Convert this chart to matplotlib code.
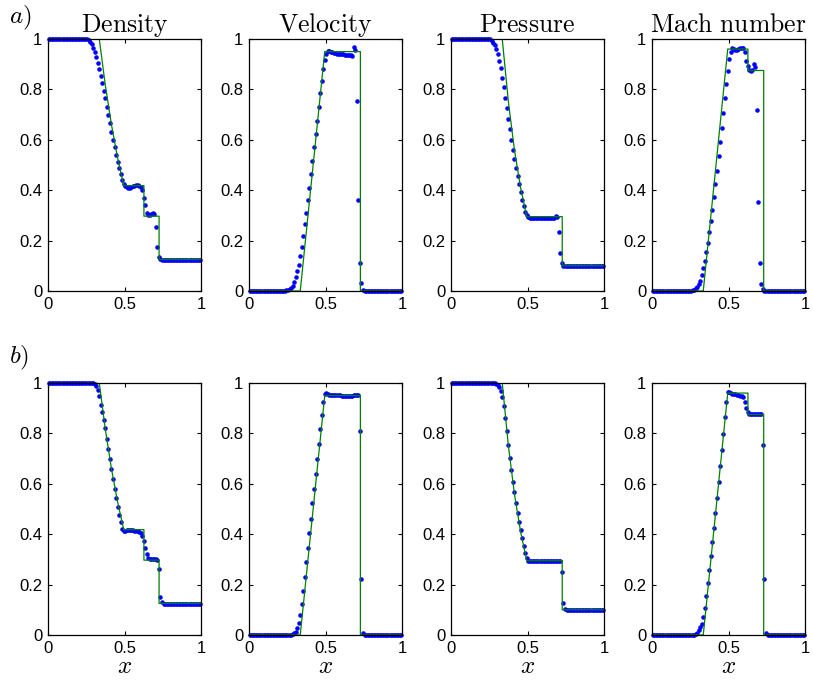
import numpy as np
import matplotlib
matplotlib.use("Agg")
import matplotlib.pyplot as plt

plt.rcParams['font.family'] = ['Liberation Sans', 'DejaVu Sans']
plt.rcParams['mathtext.fontset'] = 'cm'

# cell centres (100 cells on [0, 1])
x_cells = np.linspace(0.005, 0.995, 100)

# numerical solution, row a)
rho_a = ([1.0] * 26 +
         [0.997, 0.99, 0.98, 0.965, 0.95, 0.93, 0.905, 0.88, 0.855, 0.825, 0.795, 0.765,
          0.73, 0.70, 0.665, 0.63, 0.60, 0.57, 0.54, 0.51, 0.49, 0.465, 0.44, 0.425] +
         [0.415, 0.412, 0.41, 0.41, 0.412, 0.415, 0.418, 0.42, 0.42, 0.418, 0.412] +
         [0.40, 0.37, 0.34] +
         [0.31, 0.302, 0.30, 0.305, 0.308, 0.305] +
         [0.255, 0.175, 0.135, 0.126] +
         [0.125] * 26)
u_a = ([0.0] * 23 + [0.001, 0.003, 0.005] +
       [0.007, 0.013, 0.02, 0.035, 0.055, 0.08, 0.105, 0.14, 0.175, 0.22, 0.265, 0.31, 0.36,
        0.41, 0.465, 0.515, 0.57, 0.625, 0.675, 0.73, 0.785, 0.833, 0.88, 0.915, 0.94, 0.952] +
       [0.952, 0.95, 0.947, 0.945, 0.943, 0.942, 0.941, 0.94, 0.94, 0.939, 0.938, 0.938,
        0.937, 0.936, 0.935] +
       [0.932, 0.968, 0.955] +
       [0.755, 0.36, 0.11, 0.03, 0.005] +
       [0.0] * 25)
p_a = ([1.0] * 26 +
       [0.993, 0.985, 0.976, 0.96, 0.94, 0.914, 0.883, 0.847, 0.809, 0.766, 0.725, 0.684,
        0.643, 0.60, 0.56, 0.525, 0.489, 0.457, 0.424, 0.392, 0.363, 0.336, 0.315, 0.303, 0.292] +
       [0.289] * 17 +
       [0.298, 0.292] +
       [0.235, 0.15, 0.112, 0.101] +
       [0.1] * 26)
M_a = ([0.0] * 25 + [0.001] +
       [0.003, 0.005, 0.01, 0.017, 0.027, 0.038, 0.064, 0.09, 0.12, 0.153,
        0.191, 0.234, 0.278, 0.323, 0.372, 0.425, 0.478, 0.534, 0.59, 0.648,
        0.707, 0.765, 0.823, 0.874, 0.919, 0.95, 0.963, 0.96, 0.956,
        0.956, 0.96, 0.964, 0.965, 0.963, 0.947, 0.914, 0.893, 0.877, 0.873,
        0.877, 0.9, 0.89, 0.717, 0.354, 0.113, 0.029, 0.007] +
       [0.0] * 27)

# numerical solution, row b)
rho_b = ([1.0] * 29 + [0.999] +
         [0.996, 0.987, 0.974, 0.947, 0.914, 0.885, 0.855, 0.82, 0.778, 0.738,
          0.699, 0.659, 0.62, 0.58, 0.543, 0.509, 0.478, 0.447, 0.422, 0.413] +
         [0.414, 0.415, 0.415, 0.416, 0.416, 0.415, 0.414, 0.413, 0.412] +
         [0.41, 0.406, 0.393, 0.373, 0.346, 0.32, 0.306] +
         [0.302, 0.30, 0.30, 0.30, 0.30, 0.299] +
         [0.26, 0.152, 0.13] +
         [0.125] * 25)
u_b = ([0.0] * 28 +
       [0.003, 0.007, 0.013, 0.028, 0.049, 0.081, 0.124, 0.174, 0.231, 0.289, 0.346, 0.405,
        0.462, 0.522, 0.579, 0.638, 0.699, 0.758, 0.818, 0.872, 0.923, 0.958, 0.96, 0.956] +
       [0.953, 0.952, 0.952, 0.951, 0.951, 0.951, 0.951, 0.951, 0.95, 0.95,
        0.95, 0.95, 0.95, 0.95, 0.95, 0.95, 0.951, 0.952, 0.953, 0.954] +
       [0.808, 0.221, 0.009] +
       [0.0] * 25)
p_b = ([1.0] * 29 + [0.998] +
       [0.993, 0.984, 0.967, 0.943, 0.908, 0.861, 0.811, 0.754, 0.703, 0.654, 0.608,
        0.567, 0.522, 0.485, 0.448, 0.415, 0.383, 0.353, 0.326, 0.305, 0.293] +
       [0.292] * 21 +
       [0.251, 0.128, 0.102] +
       [0.1] * 25)
M_b = ([0.0] * 28 +
       [0.003, 0.009, 0.018, 0.03, 0.045, 0.073, 0.107, 0.153, 0.206, 0.258, 0.312,
        0.37, 0.425, 0.483, 0.543, 0.606, 0.67, 0.736, 0.799, 0.865, 0.925, 0.964] +
       [0.964, 0.96, 0.958, 0.956, 0.955, 0.953, 0.952, 0.95, 0.948] +
       [0.946, 0.926, 0.9, 0.884, 0.878] +
       [0.876] * 8 +
       [0.752, 0.221, 0.009] +
       [0.0] * 25)

# exact solution (knots)
ex_x_rho = [0, 0.335, 0.375, 0.415, 0.455, 0.495, 0.627, 0.627, 0.726, 0.726, 1]
ex_rho = [1, 1, 0.815, 0.659, 0.528, 0.418, 0.418, 0.297, 0.297, 0.125, 0.125]
ex_x_u = [0, 0.335, 0.495, 0.728, 0.728, 1]
ex_u = [0, 0, 0.95, 0.95, 0, 0]
ex_x_p = [0, 0.335, 0.375, 0.415, 0.455, 0.495, 0.727, 0.727, 1]
ex_p = [1, 1, 0.751, 0.558, 0.409, 0.295, 0.295, 0.1, 0.1]
ex_x_M = [0, 0.335, 0.495, 0.627, 0.627, 0.73, 0.73, 1]
ex_M = [0, 0, 0.96, 0.96, 0.875, 0.875, 0, 0]

titles = ['Density', 'Velocity', 'Pressure', 'Mach number']
exact = [(ex_x_rho, ex_rho), (ex_x_u, ex_u), (ex_x_p, ex_p), (ex_x_M, ex_M)]
rows = [[rho_a, u_a, p_a, M_a], [rho_b, u_b, p_b, M_b]]

W, H = 813, 684
fig = plt.figure(figsize=(W / 100, H / 100), dpi=100)

lefts = [48, 249, 451, 652]
tops = [39, 383]
w_px, h_px = 153, 252

for r in range(2):
    for c in range(4):
        ax = fig.add_axes([lefts[c] / W, 1 - (tops[r] + h_px) / H, w_px / W, h_px / H])
        ax.plot(x_cells, rows[r][c], '.', color='blue', markersize=4.5, clip_on=False)
        ax.plot(exact[c][0], exact[c][1], '-', color=(0, 0.5, 0), linewidth=0.9)
        ax.set_xlim(0, 1)
        ax.set_ylim(0, 1)
        ax.set_xticks([0, 0.5, 1])
        ax.set_xticklabels(['0', '0.5', '1'])
        ax.set_yticks([0, 0.2, 0.4, 0.6, 0.8, 1])
        ax.set_yticklabels(['0', '0.2', '0.4', '0.6', '0.8', '1'])
        ax.tick_params(direction='in', top=True, right=True, length=3,
                       labelsize=12, pad=4)
        for s in ax.spines.values():
            s.set_linewidth(0.9)
        if r == 0:
            ax.set_title(r'$\mathrm{' + titles[c].replace(' ', r'\ ') + '}$',
                         fontsize=18.5, pad=5)
        else:
            ax.set_xlabel(r'$x$', fontsize=18, labelpad=-1)

fig.text(9 / W, 1 - 18 / H, r'$a)$', fontsize=18, ha='left', va='center')
fig.text(9 / W, 1 - 358 / H, r'$b)$', fontsize=18, ha='left', va='center')

plt.savefig('out.png', dpi=100)
